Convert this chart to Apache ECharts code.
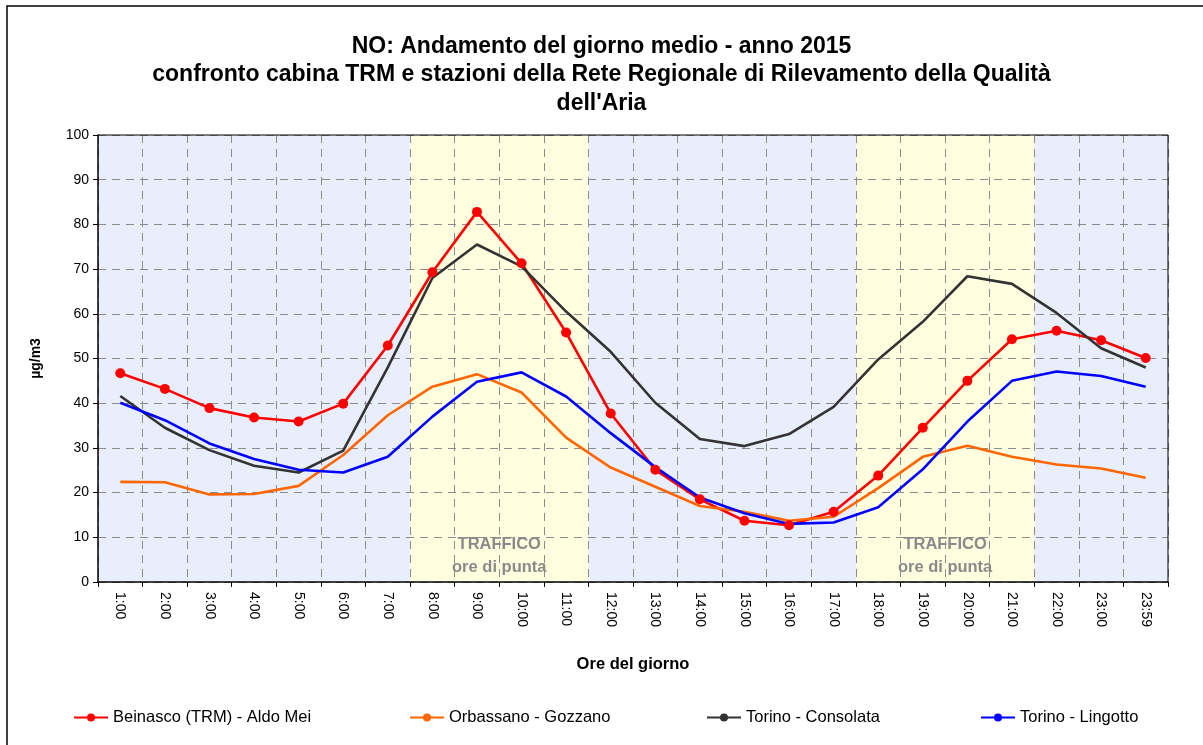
<!DOCTYPE html>
<html>
<head>
<meta charset="utf-8">
<script src="https://cdn.jsdelivr.net/npm/echarts@6/dist/echarts.min.js"></script>
<style>html,body{margin:0;padding:0;background:#fff}#c{width:1203px;height:745px}</style>
</head>
<body>
<div id="c"></div>
<script>
var hours = ['1:00','2:00','3:00','4:00','5:00','6:00','7:00','8:00','9:00','10:00','11:00','12:00','13:00','14:00','15:00','16:00','17:00','18:00','19:00','20:00','21:00','22:00','23:00','23:59'];
var beinasco = [46.7,43.2,38.9,36.8,35.9,39.9,52.9,69.3,82.8,71.3,55.8,37.7,25.1,18.5,13.7,12.7,15.7,23.8,34.5,45.0,54.3,56.2,54.1,50.1];
var orbassano = [22.4,22.3,19.6,19.7,21.5,28.4,37.3,43.7,46.5,42.4,32.3,25.6,21.3,17.0,15.7,13.7,14.6,21.0,28.0,30.5,28.0,26.3,25.4,23.3];
var consolata = [41.6,34.5,29.5,26.0,24.5,29.4,48.0,68.0,75.5,70.6,60.5,51.5,40.1,32.0,30.4,33.1,39.2,49.8,58.2,68.4,66.7,60.2,52.3,48.0];
var lingotto = [40.1,36.2,31.0,27.5,25.1,24.5,28.0,37.0,44.8,46.9,41.5,33.3,25.7,18.9,15.4,13.0,13.3,16.7,25.2,35.9,45.0,47.1,46.1,43.7];
var yTicks = [0,10,20,30,40,50,60,70,80,90,100];
// background bands: [fromIndex, toIndex, type]
var bands = [[0,7,'normal'],[7,11,'traffic'],[11,17,'normal'],[17,21,'traffic'],[21,24,'normal']];
var trafficLabel = 'TRAFFICO\nore di punta';

var FONT = 'Liberation Sans, Arial, sans-serif';
var chart = echarts.init(document.getElementById('c'));

var areaData = bands.map(function(b){
  var traffic = b[2] === 'traffic';
  return [{
    xAxis: b[0],
    itemStyle: {color: traffic ? '#FFFFE0' : '#E8EEFC'},
    label: {show: traffic, formatter: trafficLabel}
  }, {xAxis: b[1]}];
});

function lineSeries(name, data, color, withMarker){
  return {
    name: name, type: 'line', data: data,
    xAxisIndex: 0, yAxisIndex: 0,
    symbol: withMarker ? 'circle' : 'none',
    symbolSize: 10,
    showSymbol: withMarker,
    lineStyle: {color: color, width: 2.6},
    itemStyle: {color: color},
    animation: false, z: 5
  };
}

var legendPos = [73, 409, 706, 980];
var names = ['Beinasco (TRM) - Aldo Mei','Orbassano - Gozzano','Torino - Consolata','Torino - Lingotto'];

chart.setOption({
  backgroundColor: '#fff',
  animation: false,
  title: {
    text: "NO: Andamento del giorno medio - anno 2015\nconfronto cabina TRM e stazioni della Rete Regionale di Rilevamento della Qualità\ndell'Aria",
    left: 'center', top: 27,
    textStyle: {fontFamily: FONT, fontSize: 23, fontWeight: 'bold', color: '#000', lineHeight: 28.5}
  },
  legend: names.map(function(n, i){
    return {
      data: [n], left: legendPos[i], top: 709, padding: 0,
      itemWidth: 34, itemHeight: 10, itemGap: 4,
      textStyle: {fontFamily: FONT, fontSize: 16.5, color: '#000'}
    };
  }),
  grid: {left: 98, right: 35, top: 135, bottom: 163, containLabel: false},
  xAxis: [{
    type: 'category', data: hours, boundaryGap: true,
    name: 'Ore del giorno', nameLocation: 'middle', nameGap: 74,
    nameTextStyle: {fontFamily: FONT, fontSize: 16.5, fontWeight: 'bold', color: '#000'},
    axisLine: {lineStyle: {color: '#000', width: 1.5}},
    axisTick: {show: true, alignWithLabel: false, length: 5, lineStyle: {color: '#000'}},
    axisLabel: {rotate: -90, fontFamily: FONT, fontSize: 14, color: '#000', margin: 10, interval: 0},
    splitLine: {show: true, interval: 0, lineStyle: {color: '#8c8c8c', type: [8, 6], width: 1}}
  }, {
    type: 'value', min: 0, max: 24, show: false
  }],
  yAxis: {
    type: 'value', min: 0, max: 100, interval: 10,
    name: 'µg/m3', nameLocation: 'middle', nameGap: 55, nameRotate: 90,
    nameTextStyle: {fontFamily: FONT, fontSize: 14, fontWeight: 'bold', color: '#000'},
    axisLine: {show: true, lineStyle: {color: '#000', width: 1.5}},
    axisTick: {show: true, length: 5, lineStyle: {color: '#000'}},
    axisLabel: {fontFamily: FONT, fontSize: 14, color: '#000', margin: 9,
      formatter: function(v){ return yTicks.indexOf(v) >= 0 ? String(v) : ''; }},
    splitLine: {show: true, lineStyle: {color: '#8c8c8c', type: [8, 6], width: 1}}
  },
  graphic: [{
    type: 'rect', shape: {x: 7, y: 6, width: 1400, height: 1000},
    style: {fill: null, stroke: '#000', lineWidth: 1.5}, silent: true, z: 100
  }, {
    type: 'rect', shape: {x: 98, y: 134.5, width: 1070, height: 1},
    style: {fill: '#000'}, silent: true, z: 100
  }, {
    type: 'rect', shape: {x: 1167.5, y: 135, width: 1, height: 447},
    style: {fill: '#000'}, silent: true, z: 100
  }],
  series: [{
    type: 'line', xAxisIndex: 1, yAxisIndex: 0, data: [],
    symbol: 'none', silent: true, z: -10, zlevel: 0,
    markArea: {
      silent: true, z: -10,
      label: {position: 'insideBottom', distance: 3, color: '#8a8a8a', fontFamily: FONT, fontSize: 16.5, fontWeight: 'bold', lineHeight: 23},
      data: areaData
    }
  },
    lineSeries(names[0], beinasco, '#FF0000', true),
    lineSeries(names[1], orbassano, '#FF6600', false),
    lineSeries(names[2], consolata, '#333333', false),
    lineSeries(names[3], lingotto, '#0000FF', false)
  ]
});
</script>
</body>
</html>
